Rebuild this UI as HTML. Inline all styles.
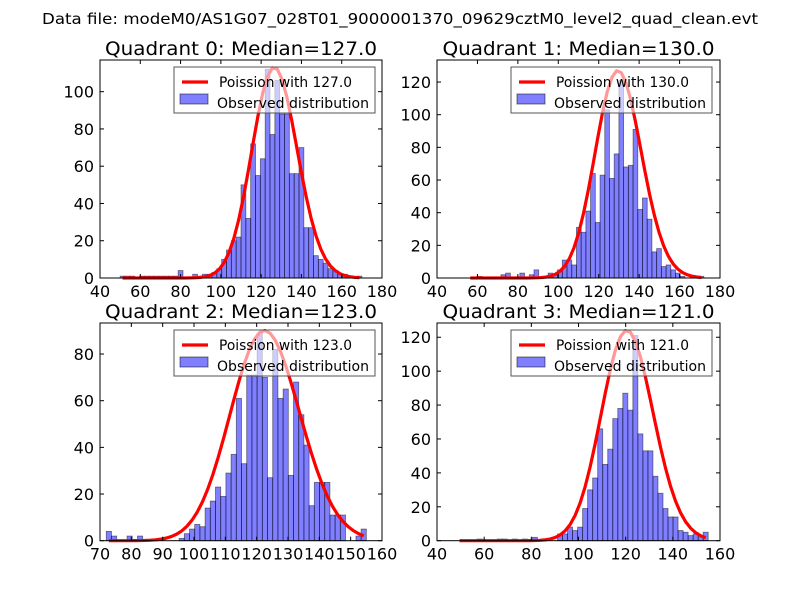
<!DOCTYPE html>
<html><head><meta charset="utf-8"><style>
html,body{margin:0;padding:0;background:#fff;}
svg{display:block;font-family:"DejaVu Sans","Liberation Sans",sans-serif;}
</style></head>
<body>
<svg id="fig" width="800" height="600" viewBox="0 0 800 600" xmlns="http://www.w3.org/2000/svg">
<rect x="0" y="0" width="800" height="600" fill="#fff"/>
<text x="400" y="24" font-size="15" text-anchor="middle" textLength="716" lengthAdjust="spacingAndGlyphs">Data file: modeM0/AS1G07_028T01_9000001370_09629cztM0_level2_quad_clean.evt</text>
</svg>
<script>
// Quadrant data
const medians = [127.0, 130.0, 123.0, 121.0];
const binStart = [50, 55.3, 72, 48.5];
const binEnd = [170, 172, 155, 155];
const curvePeak = [113, 127, 90, 124];
const counts0 = [1,1,1,0,1,1,1,1,1,1,1,1,4,0,0,2,1,2,2,3,5,10,15,20,22,50,32,72,55,64,112,77,106,88,88,56,56,70,27,27,12,10,8,5,4,2,2,1,0,1];
const counts1 = [0,0,1,0,0,0,0,2,3,0,0,3,0,2,5,0,0,3,2,5,11,11,8,31,28,41,64,34,63,103,61,76,121,68,69,91,42,49,36,16,18,7,8,5,3,1,0,0,0,1];
const counts2 = [4,2,0,0,2,0,2,0,0,0,0,0,0,0,1,3,5,7,6,14,17,23,19,29,37,61,33,71,71,89,70,27,82,61,65,28,68,54,41,15,25,25,25,11,11,11,0,0,2,5];
const counts3 = [0,0,0,0,1,0,0,0,1,1,0,1,0,1,0,2,0,0,0,0,4,4,8,6,8,19,30,37,66,45,54,72,78,87,77,121,63,53,53,38,28,19,14,14,6,5,3,4,3,5];
const allCounts = [counts0, counts1, counts2, counts3];
const xMin = [40, 40, 70, 40];
const xMax = [180, 180, 160, 160];
const yMax = [117, 133.5, 93.3, 128.4];
const xTickLabels = [[40,60,80,100,120,140,160,180],[40,60,80,100,120,140,160,180],[70,80,90,100,110,120,130,140,150,160],[40,60,80,100,120,140,160]];
const yTickLabels = [[0,20,40,60,80,100],[0,20,40,60,80,100,120],[0,20,40,60,80],[0,20,40,60,80,100,120]];
const boxes = [[100,60,382,278],[437,60,720,278],[100,323,382,540.7],[437,323,720,540.7]];

const NS = "http://www.w3.org/2000/svg";
const svg = document.getElementById('fig');
function mk(tag, attrs, parent){ const e=document.createElementNS(NS,tag); for(const k in attrs) e.setAttribute(k,attrs[k]); (parent||svg).appendChild(e); return e; }
function lgamma(z){
  if(z<7){ let p=1; while(z<7){p*=z;z+=1;} return lgamma(z)-Math.log(p); }
  return (z-0.5)*Math.log(z)-z+0.5*Math.log(2*Math.PI)+1/(12*z)-1/(360*z*z*z);
}
function logPois(k,l){ return k*Math.log(l)-l-lgamma(k+1); }

for(let q=0;q<4;q++){
  const [L,T,R,B] = boxes[q];
  const g = mk('g',{});
  
  
  const sx = v => L + (v - xMin[q])/(xMax[q]-xMin[q])*(R-L);
  const sy = v => B - v/yMax[q]*(B-T);
  const c = allCounts[q];
  const n = c.length;
  const bw = (binEnd[q]-binStart[q])/n;
  for(let i=0;i<n;i++){
    if(c[i]<=0) continue;
    const x0 = sx(binStart[q]+i*bw), x1 = sx(binStart[q]+(i+1)*bw);
    const r = mk('rect',{x:x0,y:sy(c[i]),width:x1-x0,height:B-sy(c[i]),fill:'rgba(0,0,255,0.5)',stroke:'rgba(0,0,0,0.5)','stroke-width':0.8},g);
    
    
  }
  const lam = medians[q];
  const ref = logPois(lam,lam);
  let d='';
  for(let i=0;i<n;i++){
    const xc = binStart[q]+(i+0.5)*bw;
    const v = curvePeak[q]*Math.exp(logPois(xc,lam)-ref);
    d += (i?'L':'M')+sx(xc).toFixed(2)+','+sy(v).toFixed(2);
  }
  const p = mk('path',{d:d,fill:'none',stroke:'#ff0000','stroke-width':3.2,'stroke-linejoin':'round'},g);
  
  
  const fr = mk('rect',{x:L,y:T,width:R-L,height:B-T,fill:'none',stroke:'#000','stroke-width':1},g);
  
  
  xTickLabels[q].forEach(v=>{
    const x=sx(v);
    mk('line',{x1:x,y1:B,x2:x,y2:B-4,stroke:'#000'},g);
    mk('line',{x1:x,y1:T,x2:x,y2:T+4,stroke:'#000'},g);
    const t=mk('text',{x:x,y:B+19,'font-size':16,'text-anchor':'middle'},g);
    t.textContent=v;
    
    
  });
  yTickLabels[q].forEach(v=>{
    const y=sy(v);
    mk('line',{x1:L,y1:y,x2:L+4,y2:y,stroke:'#000'},g);
    mk('line',{x1:R,y1:y,x2:R-4,y2:y,stroke:'#000'},g);
    const t=mk('text',{x:L-6,y:y+6,'font-size':16,'text-anchor':'end'},g);
    t.textContent=v;
    
    
  });
  const tt=mk('text',{x:(L+R)/2,y:T-5,'font-size':19,'text-anchor':'middle',textLength:272,lengthAdjust:'spacingAndGlyphs'},g);
  tt.textContent='Quadrant '+q+': Median='+medians[q].toFixed(1);
  
  
  const lg = mk('g',{},g);
  
  
  const lx=L+74, ly=T+7;
  mk('rect',{x:lx,y:ly,width:201,height:46,fill:'rgba(255,255,255,0.6)',stroke:'#555','stroke-width':1},lg);
  mk('line',{x1:lx+8,y1:ly+15,x2:lx+34,y2:ly+15,stroke:'#ff0000','stroke-width':3.2},lg);
  mk('rect',{x:lx,y:ly+24,width:0,height:0,fill:'none'},lg);
  mk('rect',{x:lx+6,y:ly+27,width:28,height:10,fill:'rgba(0,0,255,0.5)',stroke:'rgba(0,0,0,0.5)'},lg);
  const l1=mk('text',{x:lx+45,y:ly+20,'font-size':14,textLength:133,lengthAdjust:'spacingAndGlyphs'},lg);
  l1.textContent='Poission with '+medians[q].toFixed(1);
  
  
  const l2=mk('text',{x:lx+43,y:ly+41,'font-size':14,textLength:152,lengthAdjust:'spacingAndGlyphs'},lg);
  l2.textContent='Observed distribution';
  
  
}
</script>
</body></html>
